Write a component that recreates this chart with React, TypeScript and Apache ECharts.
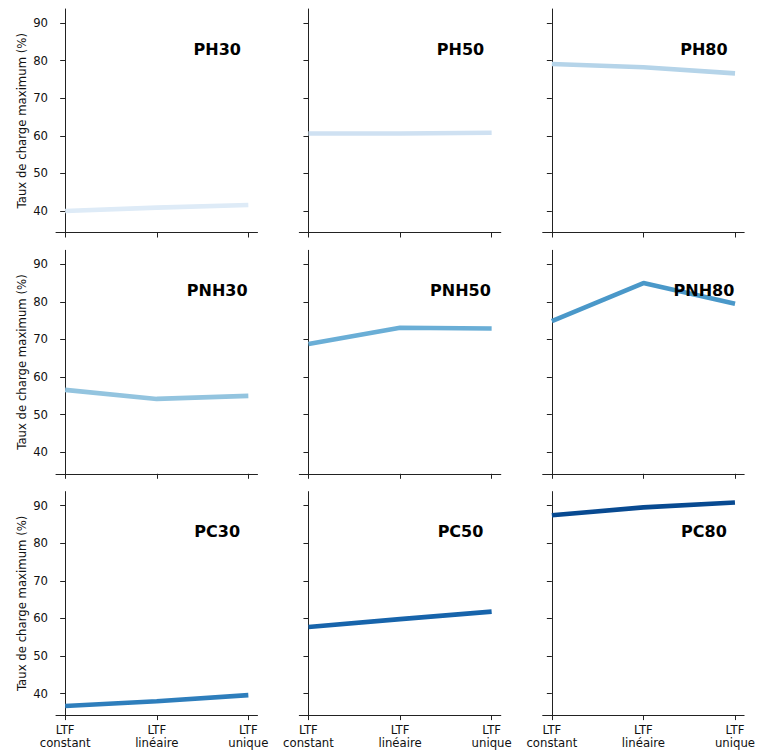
import React, { useEffect, useRef } from "react";
import * as echarts from "echarts";

const categories = ["LTF\nconstant", "LTF\nlinéaire", "LTF\nunique"];
const panelNames = ["PH30", "PH50", "PH80", "PNH30", "PNH50", "PNH80", "PC30", "PC50", "PC80"];
const ph30 = [40.0, 40.9, 41.6];
const ph50 = [60.6, 60.6, 60.8];
const ph80 = [79.1, 78.2, 76.6];
const pnh30 = [56.6, 54.2, 55.0];
const pnh50 = [68.8, 73.1, 72.9];
const pnh80 = [74.9, 85.0, 79.5];
const pc30 = [36.7, 38.0, 39.6];
const pc50 = [57.7, 59.8, 61.8];
const pc80 = [87.4, 89.5, 90.8];
const yTicks = [40, 50, 60, 70, 80, 90];
const yLabel = "Taux de charge maximum (%)";
const panelColors = ["#deebf7", "#cfe1f2", "#b5d4e9", "#93c4df", "#6aaed6", "#4a98c9", "#2e7ebc", "#1764ab", "#084a91"];

const allSeries = [ph30, ph50, ph80, pnh30, pnh50, pnh80, pc30, pc50, pc80];

export default function App() {
  const ref = useRef<HTMLDivElement>(null);
  useEffect(() => {
    if (!ref.current) return;
    const chart = echarts.init(ref.current, undefined, { renderer: "svg" });
    const lefts = [56, 299.3, 542.7];
    const tops = [9, 250.3, 491.6];
    const w = 201.5;
    const h = 223.5;
    const font = "DejaVu Sans";
    const grids: any[] = [];
    const xAxes: any[] = [];
    const yAxes: any[] = [];
    const series: any[] = [];
    const graphics: any[] = [];
    for (let i = 0; i < 9; i++) {
      const r = Math.floor(i / 3);
      const c = i % 3;
      grids.push({ left: lefts[c], top: tops[r], width: w, height: h, containLabel: false });
      xAxes.push({
        type: "value",
        gridIndex: i,
        min: -0.1,
        max: 2.1,
        splitLine: { show: false },
        axisLine: { show: true, onZero: false, lineStyle: { color: "#222", width: 1 } },
        axisTick: { show: true, length: 5, lineStyle: { color: "#222", width: 1 }, customValues: [0, 1, 2] },
        axisLabel: {
          show: r === 2,
          customValues: [0, 1, 2],
          formatter: (v: number) => categories[Math.round(v)] ?? "",
          fontFamily: font,
          fontSize: 11.7,
          color: "#111",
          lineHeight: 13,
          margin: 8,
        },
      });
      yAxes.push({
        type: "value",
        gridIndex: i,
        min: 34.3,
        max: 93.7,
        splitLine: { show: false },
        axisLine: { show: true, lineStyle: { color: "#222", width: 1 } },
        axisTick: { show: true, length: 5, lineStyle: { color: "#222", width: 1 }, customValues: yTicks },
        axisLabel: {
          show: c === 0,
          customValues: yTicks,
          fontFamily: font,
          fontSize: 11.7,
          color: "#111",
          margin: 8,
        },
        name: c === 0 ? yLabel : "",
        nameLocation: "middle",
        nameGap: 28,
        nameTextStyle: { fontFamily: font, fontSize: 11.7, color: "#111" },
      });
      series.push({
        type: "line",
        xAxisIndex: i,
        yAxisIndex: i,
        data: allSeries[i].map((v, k) => [k, v]),
        showSymbol: false,
        symbol: "none",
        lineStyle: { color: panelColors[i], width: 4.6 },
        z: 2,
      });
      graphics.push({
        type: "text",
        x: lefts[c] + 0.8 * w,
        y: tops[r] + 40,
        z: 10,
        style: {
          text: panelNames[i],
          fontFamily: font,
          fontWeight: "bold",
          fontSize: 16,
          fill: "#000",
          textAlign: "center",
          textVerticalAlign: "middle",
        },
      });
    }
    chart.setOption({
      animation: false,
      backgroundColor: "#fff",
      grid: grids,
      xAxis: xAxes,
      yAxis: yAxes,
      series,
      graphic: graphics,
    });
    return () => chart.dispose();
  }, []);
  return (
    <div
      ref={ref}
      style={{ position: "fixed", left: 0, top: 0, width: 758, height: 753, background: "#fff" }}
    />
  );
}
